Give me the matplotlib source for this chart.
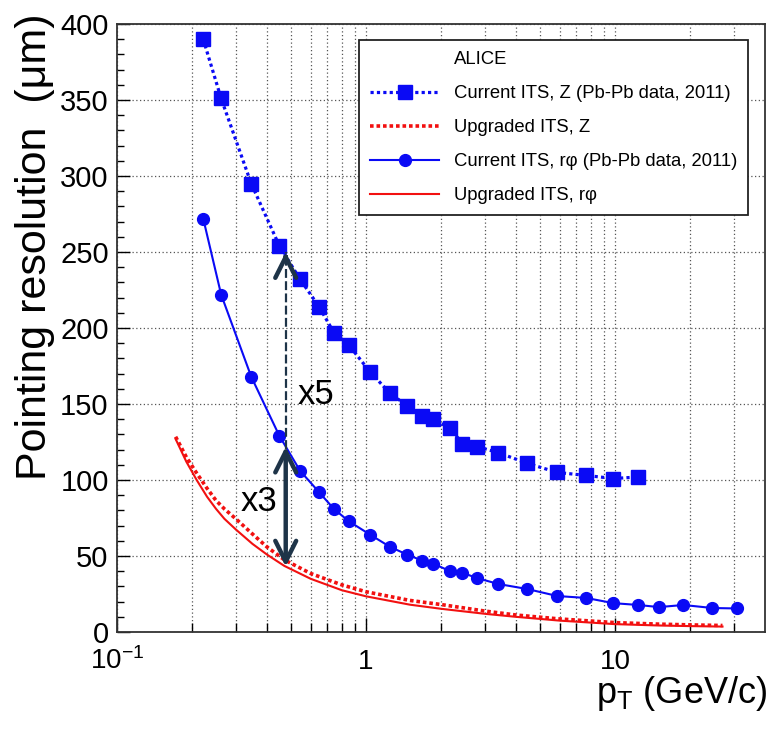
import matplotlib
matplotlib.use("Agg")
import matplotlib.pyplot as plt
from matplotlib.lines import Line2D
from matplotlib.ticker import FixedLocator, NullFormatter

plt.rcParams["font.family"] = ["Liberation Sans", "DejaVu Sans"]
plt.rcParams["mathtext.fontset"] = "custom"
plt.rcParams["mathtext.rm"] = "Liberation Sans"

# measured points (pT in GeV/c, resolution in um)
pt = [0.222, 0.262, 0.346, 0.449, 0.544, 0.648, 0.743, 0.851, 1.04, 1.25, 1.46,
      1.68, 1.86, 2.18, 2.44, 2.79, 3.40, 4.44, 5.86, 7.67, 9.85, 12.4, 15.0,
      18.8, 24.6, 31.0]
z_current = [390, 351, 295, 254, 232, 214, 197, 189, 171, 157, 149, 142, 140,
             134, 124, 122, 118, 111, 105, 103, 101, 102]
rphi_current = [272, 222, 168, 129, 106, 92, 81, 73, 64, 56, 51, 47, 45, 40,
                39, 35.5, 31.6, 28.3, 23.7, 22.4, 19, 17.8, 16.4, 17.8, 15.8, 15.5]

# upgrade expectation curves
pt_upg = [0.172, 0.19, 0.209, 0.23, 0.25, 0.27, 0.3, 0.35, 0.4, 0.47, 0.6, 0.8,
          1.0, 1.5, 2.0, 3.0, 4.0, 6.0, 10.0, 15.0, 20.0, 27.0]
rphi_upgraded = [127, 112, 100, 89, 81, 74.5, 67.5, 58, 51, 43.5, 35, 27.5,
                 23.5, 18, 15.3, 12, 10, 7.5, 5.2, 4.3, 3.9, 3.6]
z_upgraded = [128.5, 115, 104.5, 94.5, 86.5, 81, 74.5, 64.5, 56, 47.5, 38.5, 31,
              26.5, 20.8, 18.1, 13.8, 11.2, 8.6, 6.2, 5.2, 4.7, 4.3]

xticks = [0.1, 1, 10]
xticklabels = [r"$\mathregular{10^{-1}}$", "1", "10"]
yticks = [0, 50, 100, 150, 200, 250, 300, 350, 400]

# annotation arrows
arrow_pt = 0.476
arrow_x5 = (48, 250)
arrow_x3 = (43, 122)

blue = "#0a0af5"
red = "#f21010"
navy = "#1e3448"

fig = plt.figure(figsize=(7.69, 7.30), dpi=100)
ax = fig.add_axes([0.1521, 0.1342, 0.8427, 0.8329])

ax.plot(pt[:len(z_current)], z_current, color=blue, lw=2.3,
        ls=(0, (1.0, 1.0)), marker="s", ms=9.5, zorder=4)
ax.plot(pt_upg, z_upgraded, color=red, lw=2.6, ls=(0, (1.0, 0.8)), zorder=3)
ax.plot(pt, rphi_current, color=blue, lw=1.5, marker="o", ms=8.5, zorder=4)
ax.plot(pt_upg, rphi_upgraded, color=red, lw=1.5, zorder=3)

# x5 arrow: dashed shaft, open head on top
ax.plot([arrow_pt, arrow_pt], arrow_x5, color=navy, lw=1.6,
        ls=(0, (4, 1.5)), zorder=5)
ax.annotate("", xy=(arrow_pt, arrow_x5[1]), xytext=(arrow_pt, arrow_x5[1] - 5),
            arrowprops=dict(arrowstyle="->,head_length=1.0,head_width=0.5",
                            lw=3.2, color=navy, mutation_scale=15,
                            shrinkA=0, shrinkB=0), zorder=6)
# x3 double arrow
ax.annotate("", xy=(arrow_pt, arrow_x3[1]), xytext=(arrow_pt, arrow_x3[0]),
            arrowprops=dict(arrowstyle="<->,head_length=1.0,head_width=0.5",
                            lw=3.2, color=navy, mutation_scale=15,
                            shrinkA=0, shrinkB=0), zorder=6)
ax.text(0.532, 156, "x5", fontsize=25, ha="left", va="center", zorder=6)
ax.text(0.313, 86, "x3", fontsize=25, ha="left", va="center", zorder=6)

ax.set_xscale("log")
ax.set_xlim(0.1, 40)
ax.set_ylim(0, 400)

ax.xaxis.set_major_locator(FixedLocator(xticks))
ax.set_xticklabels(xticklabels)
ax.xaxis.set_minor_locator(FixedLocator(
    [m * d for d in (0.1, 1, 10) for m in range(2, 10) if m * d < 40]))
ax.xaxis.set_minor_formatter(NullFormatter())
ax.set_yticks(yticks)
ax.set_yticks(range(0, 401, 10), minor=True)

ax.tick_params(axis="x", which="major", direction="in", length=10, width=1,
               labelsize=20, pad=26.5, top=False)
ax.tick_params(axis="x", which="minor", direction="in", length=6.5, width=1,
               top=False)
ax.tick_params(axis="y", which="major", direction="in", length=9, width=1,
               labelsize=21, pad=6, right=False)
ax.tick_params(axis="y", which="minor", direction="in", length=5, width=1,
               right=False)
for lab in ax.get_xticklabels():
    lab.set_verticalalignment("baseline")

ax.grid(which="both", axis="x", color="#555555", lw=0.9, ls=(0, (1, 2)))
ax.grid(which="major", axis="y", color="#555555", lw=0.9, ls=(0, (1, 2)))
for sp in ax.spines.values():
    sp.set_linewidth(1.3)
    sp.set_color("#333333")

fig.text(35 / 769, 1 - 14 / 730, "Pointing resolution  (\u03bcm)", fontsize=31,
         rotation=90, ha="center", va="top")
fig.text(767 / 769, 1 - 703 / 730, r"p$\mathregular{_T}$ (GeV/c)", fontsize=26,
         ha="right", va="baseline")

handles = [
    Line2D([], [], color="none"),
    Line2D([], [], color=blue, lw=2.3, ls=(0, (1.0, 1.0)), marker="s", ms=9.5),
    Line2D([], [], color=red, lw=2.6, ls=(0, (1.0, 0.8))),
    Line2D([], [], color=blue, lw=1.5, marker="o", ms=8.5),
    Line2D([], [], color=red, lw=1.5),
]
labels = [
    "ALICE",
    "Current ITS, Z (Pb-Pb data, 2011)",
    "Upgraded ITS, Z",
    "Current ITS, r\u03c6 (Pb-Pb data, 2011)",
    "Upgraded ITS, r\u03c6",
]
leg = ax.legend(handles, labels, loc="upper right",
                bbox_to_anchor=(748 / 769, 1 - 40 / 730),
                bbox_transform=fig.transFigure, borderaxespad=0,
                fontsize=13.3, handlelength=3.7, handletextpad=0.8,
                labelspacing=0.92, borderpad=0.6, fancybox=False,
                framealpha=1, edgecolor="#222222")
leg.get_frame().set_linewidth(1.3)
leg.set_zorder(10)

fig.savefig("out.png", dpi=100)
